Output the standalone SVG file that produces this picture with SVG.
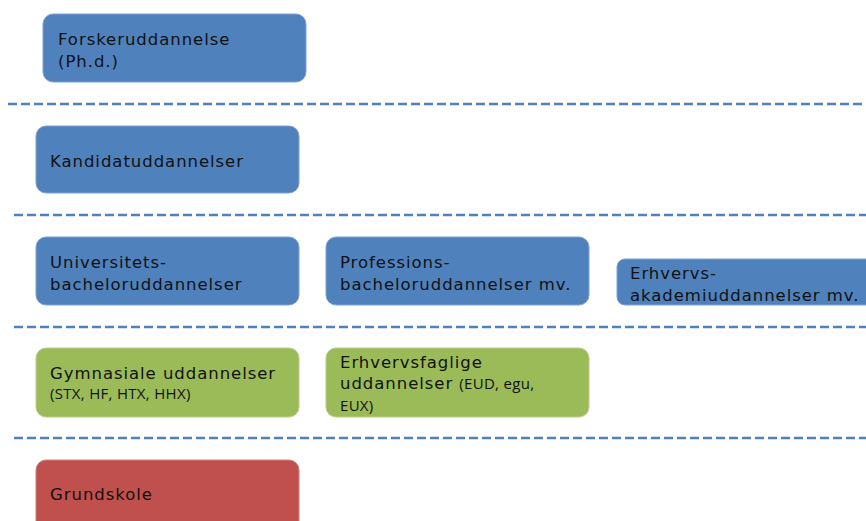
<svg xmlns="http://www.w3.org/2000/svg" width="866" height="521" viewBox="0 0 866 521">
<style>
.b{fill:#4F81BD;stroke:#7fa3d0;stroke-width:1}
.g{fill:#9BBB59;stroke:#b7cf86;stroke-width:1}
.r{fill:#C0504D;stroke:#d27f7c;stroke-width:1}
.t{font-family:"DejaVu Sans",Verdana,sans-serif;font-size:16.5px;letter-spacing:0.95px;fill:#111}
.s{font-family:"Open Sans","Liberation Sans",sans-serif;font-size:15px;letter-spacing:0.3px;fill:#111}
.d{stroke:#4F81BD;stroke-width:2.5;stroke-dasharray:9 4;fill:none}
</style>
<g id="connectors">
<line class="d" x1="8" y1="104" x2="866" y2="104"/>
<line class="d" x1="14" y1="215" x2="866" y2="215"/>
<line class="d" x1="14" y1="327" x2="866" y2="327"/>
<line class="d" x1="14" y1="438" x2="866" y2="438"/>
</g>
<g id="forsker">
<rect class="b" x="43" y="14" width="263" height="68" rx="10"/>
<text class="t" x="58" y="45">Forskeruddannelse</text>
<text class="t" x="58" y="67">(Ph.d.)</text>
</g>
<g id="kandidat">
<rect class="b" x="36" y="126" width="263" height="67" rx="10"/>
<text class="t" x="50" y="167">Kandidatuddannelser</text>
</g>
<g id="universitet">
<rect class="b" x="36" y="237" width="263" height="68" rx="10"/>
<text class="t" x="50" y="268">Universitets-</text>
<text class="t" x="50" y="290">bacheloruddannelser</text>
</g>
<g id="profession">
<rect class="b" x="326" y="237" width="263" height="68" rx="10"/>
<text class="t" x="340" y="268">Professions-</text>
<text class="t" x="340" y="290">bacheloruddannelser mv.</text>
</g>
<g id="akademi">
<rect class="b" x="617" y="259" width="263" height="46" rx="8"/>
<text class="t" x="630" y="279">Erhvervs-</text>
<text class="t" x="630" y="301">akademiuddannelser mv.</text>
</g>
<g id="gymnasiale">
<rect class="g" x="36" y="348" width="263" height="69" rx="10"/>
<text class="t" x="50" y="379">Gymnasiale uddannelser</text>
<text class="s" x="50" y="399">(STX, HF, HTX, HHX)</text>
</g>
<g id="erhvervsfaglige">
<rect class="g" x="326" y="348" width="263" height="69" rx="10"/>
<text class="t" x="340" y="368">Erhvervsfaglige</text>
<text x="340" y="389"><tspan class="t">uddannelser </tspan><tspan class="s">(EUD, egu,</tspan></text>
<text class="s" x="340" y="411">EUX)</text>
</g>
<g id="grundskole">
<rect class="r" x="36" y="460" width="263" height="75" rx="10"/>
<text class="t" x="50" y="500">Grundskole</text>
</g>
</svg>
